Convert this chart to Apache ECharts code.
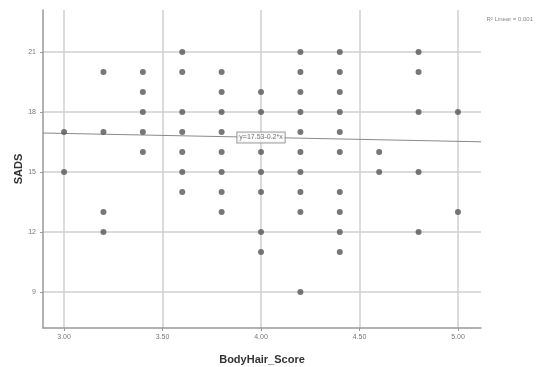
<!DOCTYPE html>
<html>
<head>
<meta charset="utf-8">
<script src="https://cdn.jsdelivr.net/npm/echarts@6/dist/echarts.min.js"></script>
<style>html,body{margin:0;padding:0;background:#fff}#c{width:539px;height:367px}</style>
</head>
<body>
<div id="c"></div>
<script>
// Data: BodyHair_Score (x) vs SADS (y)
const xTicks = [3.0, 3.5, 4.0, 4.5, 5.0];
const xTickLabels = ['3.00', '3.50', '4.00', '4.50', '5.00'];
const yTicks = [9, 12, 15, 18, 21];
const scoreGroups = [3.0, 3.2, 3.4, 3.6, 3.8, 4.0, 4.2, 4.4, 4.6, 4.8, 5.0];
const sadsByGroup = [
  [17, 15],
  [20, 17, 13, 12],
  [20, 19, 18, 17, 16],
  [21, 20, 18, 17, 16, 15, 14],
  [20, 19, 18, 17, 16, 15, 14, 13],
  [19, 18, 16, 15, 14, 12, 11],
  [21, 20, 19, 18, 17, 16, 15, 14, 13, 9],
  [21, 20, 19, 18, 17, 16, 14, 13, 12, 11],
  [16, 15],
  [21, 20, 18, 15, 12],
  [18, 13]
];
const fitLineX = [2.893, 5.117];
const fitLineY = [16.95, 16.51];
const fitLabelPos = [4.0, 16.73];
const fitLabelText = 'y=17.53-0.2*x';
const r2Text = 'R² Linear = 0.001';

const points = [];
scoreGroups.forEach((g, i) => sadsByGroup[i].forEach(v => points.push([g, v])));

const chart = echarts.init(document.getElementById('c'), null, {renderer: 'canvas'});
const gridColor = '#cfcfcf';
chart.setOption({
  animation: false,
  backgroundColor: '#fff',
  grid: {left: 43, top: 10, width: 438, height: 318, containLabel: false, outerBoundsMode: 'none'},
  xAxis: {
    type: 'value', min: 2.893, max: 5.117,
    name: 'BodyHair_Score', nameLocation: 'middle', nameGap: 26, nameMoveOverlap: false,
    nameTextStyle: {fontFamily: 'Liberation Sans', fontWeight: 'bold', fontSize: 11, color: '#333'},
    axisLine: {show: true, onZero: false, lineStyle: {color: '#999', width: 1.5}},
    axisTick: {show: true, length: 3, customValues: xTicks, lineStyle: {color: '#999'}},
    axisLabel: {customValues: xTicks, formatter: v => xTickLabels[xTicks.indexOf(+v.toFixed(2))] || v.toFixed(2),
      fontFamily: 'Liberation Sans', fontSize: 7, color: '#777', margin: 6},
    splitLine: {show: true, lineStyle: {color: gridColor, width: 1.5}}
  },
  yAxis: {
    type: 'value', min: 7.2, max: 23.1,
    name: 'SADS', nameLocation: 'middle', nameGap: 19, nameRotate: 90, nameMoveOverlap: false,
    nameTextStyle: {fontFamily: 'Liberation Sans', fontWeight: 'bold', fontSize: 11, color: '#333'},
    axisLine: {show: true, onZero: false, lineStyle: {color: '#999', width: 1.5}},
    axisTick: {show: true, length: 3, customValues: yTicks, lineStyle: {color: '#999'}},
    axisLabel: {customValues: yTicks, fontFamily: 'Liberation Sans', fontSize: 7, color: '#777', margin: 7},
    splitLine: {show: true, lineStyle: {color: gridColor, width: 1.5}}
  },
  series: [
    {
      type: 'line', data: fitLineX.map((x, i) => [x, fitLineY[i]]),
      symbol: 'none', lineStyle: {color: '#8a8a8a', width: 1}, z: 3, silent: true
    },
    {
      type: 'scatter', data: points, symbolSize: 6,
      itemStyle: {color: '#555'}, z: 4
    },
    {
      type: 'scatter', data: [fitLabelPos], symbolSize: 0, z: 6,
      label: {show: true, position: 'inside', formatter: fitLabelText,
        fontFamily: 'Liberation Sans', fontSize: 7, color: '#555',
        backgroundColor: '#fff', borderColor: '#888', borderWidth: 1, padding: [2, 2, 1, 2]}
    }
  ],
  graphic: [
    {type: 'text', right: 6, top: 16, style: {text: r2Text, fontFamily: 'Liberation Sans', fontSize: 6, fill: '#888'}}
  ]
});
</script>
</body>
</html>
